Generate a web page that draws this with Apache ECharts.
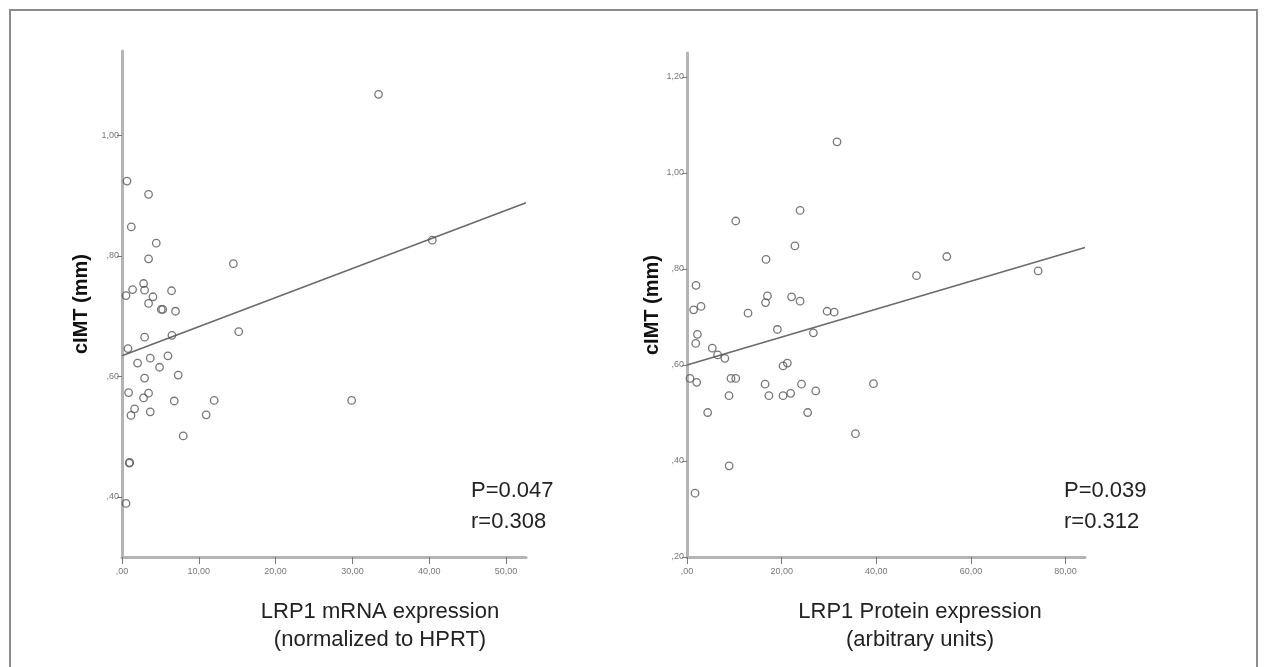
<!DOCTYPE html>
<html>
<head>
<meta charset="utf-8">
<title>cIMT vs LRP1</title>
<script src="https://cdn.jsdelivr.net/npm/echarts/dist/echarts.min.js"></script>
<style>
  html, body { margin: 0; padding: 0; background: #fff; }
  #chart { width: 1267px; height: 667px; }
</style>
</head>
<body>
<div id="chart"></div>
<script>
// LRP1 mRNA expression (normalized to HPRT) vs cIMT (mm)
var mrnaPoints = [
  [0.65, 0.924], [3.46, 0.902], [1.21, 0.848], [4.46, 0.821], [3.46, 0.795],
  [14.5, 0.787], [2.81, 0.754], [1.38, 0.744], [0.52, 0.734], [2.94, 0.743],
  [6.45, 0.742], [4.03, 0.732], [3.46, 0.721], [5.11, 0.711], [5.3, 0.711],
  [6.97, 0.708], [15.2, 0.674], [2.94, 0.665], [6.5, 0.668], [0.78, 0.646],
  [2.03, 0.622], [3.68, 0.630], [5.98, 0.634], [4.89, 0.615], [2.94, 0.597],
  [7.32, 0.602], [0.86, 0.573], [3.46, 0.572], [2.81, 0.564], [6.8, 0.559],
  [12.0, 0.560], [1.64, 0.546], [1.17, 0.535], [3.68, 0.541], [10.96, 0.536],
  [7.97, 0.501], [0.95, 0.456], [1.0, 0.457], [0.52, 0.389], [33.4, 1.068],
  [40.4, 0.826], [29.9, 0.560]
];
var mrnaFit = [[0, 0.634], [52.6, 0.888]];

// LRP1 protein expression (arbitrary units) vs cIMT (mm)
var proteinPoints = [
  [23.9, 0.922], [10.3, 0.900], [22.8, 0.848], [16.7, 0.820], [1.9, 0.766],
  [17.0, 0.744], [16.6, 0.730], [22.1, 0.742], [23.9, 0.733], [1.4, 0.715],
  [2.96, 0.722], [12.9, 0.708], [29.6, 0.712], [31.1, 0.710], [2.2, 0.664],
  [19.1, 0.674], [26.7, 0.667], [1.84, 0.645], [5.34, 0.635], [6.47, 0.621],
  [8.0, 0.614], [0.63, 0.572], [2.05, 0.564], [9.3, 0.572], [10.3, 0.572],
  [8.87, 0.536], [4.37, 0.501], [20.3, 0.598], [21.2, 0.604], [16.5, 0.560],
  [17.3, 0.536], [20.3, 0.536], [21.9, 0.541], [24.2, 0.560], [27.2, 0.546],
  [25.5, 0.501], [35.6, 0.457], [8.9, 0.390], [1.7, 0.333], [31.7, 1.065],
  [48.5, 0.786], [54.9, 0.826], [74.2, 0.796], [39.4, 0.561]
];
var proteinFit = [[0, 0.600], [84.1, 0.845]];

// tick values
var mrnaXTicks = [0, 10, 20, 30, 40, 50];
var mrnaYTicks = [0.4, 0.6, 0.8, 1.0];
var proteinXTicks = [0, 20, 40, 60, 80];
var proteinYTicks = [0.2, 0.4, 0.6, 0.8, 1.0, 1.2];

var yTitle = 'cIMT (mm)';
var mrnaTitle = 'LRP1 mRNA expression\n(normalized to HPRT)';
var proteinTitle = 'LRP1 Protein expression\n(arbitrary units)';
var mrnaStats = 'P=0.047\nr=0.308';
var proteinStats = 'P=0.039\nr=0.312';

// SPSS style: 0,80 -> ,80
function spssFmt(v) {
  return v.toFixed(2).replace('.', ',').replace(/^0/, '');
}

var tickFont = 'Liberation Sans Narrow, Arial Narrow, Liberation Sans, sans-serif';
var textFont = 'Liberation Sans, Arial, sans-serif';

function makeX(idx, max, ticks) {
  return {
    type: 'value', gridIndex: idx, min: 0, max: max,
    axisLine: { onZero: false, lineStyle: { color: '#b4b4b4', width: 3 } },
    axisTick: { customValues: ticks, length: 7, lineStyle: { color: '#777', width: 1 } },
    axisLabel: { customValues: ticks, formatter: spssFmt, color: '#777', fontSize: 9, fontFamily: tickFont, margin: 10 },
    splitLine: { show: false }
  };
}

function makeY(idx, min, max, ticks, gap) {
  return {
    type: 'value', gridIndex: idx, min: min, max: max,
    name: yTitle, nameLocation: 'middle', nameRotate: 90, nameGap: gap,
    nameTextStyle: { fontSize: 20, fontWeight: 'bold', color: '#111', fontFamily: textFont },
    axisLine: { onZero: false, lineStyle: { color: '#b4b4b4', width: 3 } },
    axisTick: { customValues: ticks, length: 5, lineStyle: { color: '#777', width: 1 } },
    axisLabel: { customValues: ticks, formatter: spssFmt, color: '#777', fontSize: 9, fontFamily: tickFont, margin: 3 },
    splitLine: { show: false }
  };
}

function pointSeries(idx, data) {
  return {
    type: 'scatter', xAxisIndex: idx, yAxisIndex: idx, data: data,
    symbol: 'circle', symbolSize: 7.5,
    itemStyle: { color: 'rgba(0,0,0,0)', borderColor: '#555', borderWidth: 1.3 },
    silent: true, z: 3
  };
}

function fitSeries(idx, data) {
  return {
    type: 'line', xAxisIndex: idx, yAxisIndex: idx, data: data,
    symbol: 'none', silent: true,
    lineStyle: { color: '#6a6a6a', width: 1.6 }
  };
}

function textBlock(x, y, text, align, lineHeight) {
  return {
    type: 'text', x: x, y: y, silent: true,
    style: {
      text: text, align: align, verticalAlign: 'top',
      lineHeight: lineHeight, fill: '#222', font: '22px ' + textFont
    }
  };
}

var myChart = echarts.init(document.getElementById('chart'));

myChart.setOption({
  animation: false,
  grid: [
    { left: 122, top: 51, width: 404, height: 506 },
    { left: 687, top: 53, width: 398, height: 504 }
  ],
  xAxis: [
    makeX(0, 52.6, mrnaXTicks),
    makeX(1, 84.1, proteinXTicks)
  ],
  yAxis: [
    makeY(0, 0.30, 1.14, mrnaYTicks, 31),
    makeY(1, 0.20, 1.25, proteinYTicks, 25)
  ],
  series: [
    fitSeries(0, mrnaFit),
    pointSeries(0, mrnaPoints),
    fitSeries(1, proteinFit),
    pointSeries(1, proteinPoints)
  ],
  graphic: [
    {
      type: 'rect', silent: true, z: -1,
      shape: { x: 10, y: 10, width: 1247, height: 700 },
      style: { fill: 'none', stroke: '#8c8c8c', lineWidth: 2 }
    },
    textBlock(380, 598, mrnaTitle, 'center', 28),
    textBlock(920, 598, proteinTitle, 'center', 28),
    textBlock(471, 475, mrnaStats, 'left', 31),
    textBlock(1064, 475, proteinStats, 'left', 31)
  ]
});
</script>
</body>
</html>
